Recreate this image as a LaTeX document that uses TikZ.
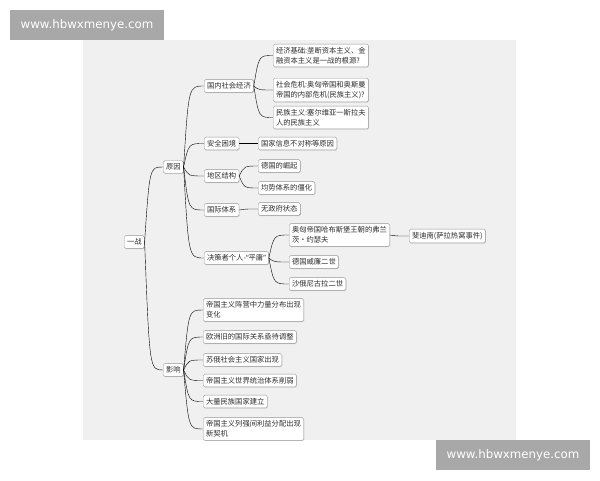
\documentclass[tikz,border=0pt]{standalone}
\usepackage{fontspec}
\setmainfont{Noto Sans CJK SC}
\newfontfamily\wmfont{DejaVu Sans}
\newfontfamily\latinfont{Noto Sans}
\usetikzlibrary{calc,shadows}
\definecolor{mybg}{RGB}{239,240,239}
\definecolor{myline}{RGB}{150,150,150}
\definecolor{mytext}{RGB}{45,45,45}
\definecolor{mymark}{RGB}{168,168,168}

\tikzset{
  topic/.style={draw=myline, fill=white, rounded corners=1.5pt, anchor=west, align=left,
    text=mytext, font=\fontsize{7.3}{10}\selectfont, inner xsep=2.8pt, inner ysep=3pt,
    drop shadow={opacity=0.25, shadow xshift=0.6pt, shadow yshift=-0.8pt}},
  branch/.style={draw=myline, line width=0.6pt,
    to path={.. controls ($(\tikztostart|-\tikztotarget)+(5,0)$) .. (\tikztotarget)}},
  watermark/.style={fill=mymark, text=white, font=\wmfont\fontsize{11.8}{14}\selectfont,
    minimum width=154pt, minimum height=30pt, inner sep=0pt}
}

\begin{document}
\begin{tikzpicture}[x=1pt, y=-1pt]

\fill[white] (0,0) rectangle (600,480);
\fill[mybg] (83,40) rectangle (516,440);

\begin{scope}
\clip (83,40) rectangle (516,440);

%---------NODES-----------%
\node[topic] (yz) at (124,242) {一战};

\node[topic] (cause) at (163,167) {原因};
\node[topic] (impact) at (163,370) {影响};

\node[topic] (econ) at (204,86) {国内社会经济};
\node[topic] (sec) at (204,143.5) {安全困境};
\node[topic] (reg) at (204,176) {地区结构};
\node[topic] (intl) at (204,210) {国际体系};
\node[topic] (dec) at (204,258) {决策者个人-{\latinfont “}平庸{\latinfont ”}};

\node[topic] (e1) at (273,55.5) {经济基础:垄断资本主义、金\\融资本主义是一战的根源?};
\node[topic] (e2) at (273,90) {社会危机:奥匈帝国和奥斯曼\\帝国的内部危机(民族主义)?};
\node[topic] (e3) at (273,117.5) {民族主义:塞尔维亚一斯拉夫\\人的民族主义};

\node[topic] (s1) at (258,143.5) {国家信息不对称等原因};
\node[topic] (r1) at (258,166) {德国的崛起};
\node[topic] (r2) at (258,188) {均势体系的僵化};
\node[topic] (i1) at (258,209) {无政府状态};

\node[topic] (d1) at (289,235) {奥匈帝国哈布斯堡王朝的弗兰\\茨·约瑟夫};
\node[topic] (d2) at (289,262) {德国威廉二世};
\node[topic] (d3) at (289,284) {沙俄尼古拉二世};
\node[topic] (fd) at (409,236) {斐迪南(萨拉热窝事件)};

\node[topic] (m1) at (203,310) {帝国主义阵营中力量分布出现\\变化};
\node[topic] (m2) at (203,337) {欧洲旧的国际关系亟待调整};
\node[topic] (m3) at (203,360) {苏俄社会主义国家出现};
\node[topic] (m4) at (203,380.5) {帝国主义世界统治体系削弱};
\node[topic] (m5) at (203,401.5) {大量民族国家建立};
\node[topic] (m6) at (203,429) {帝国主义列强间利益分配出现\\新契机};

%---------LINKS-----------%
\foreach \x/\y in {yz/cause,yz/impact,cause/econ,cause/sec,cause/reg,cause/intl,cause/dec,
  econ/e1,econ/e2,econ/e3,sec/s1,reg/r1,reg/r2,intl/i1,dec/d1,dec/d2,dec/d3,d1/fd,
  impact/m1,impact/m2,impact/m3,impact/m4,impact/m5,impact/m6}{
  \draw (\x.east) to[branch] (\y.west);
};
\end{scope}

%---------WATERMARKS-----------%
\node[watermark] (wm1) at (87,25) {www.hbwxmenye.com};
\node[watermark] (wm2) at (513,455) {www.hbwxmenye.com};

\end{tikzpicture}
\end{document}
